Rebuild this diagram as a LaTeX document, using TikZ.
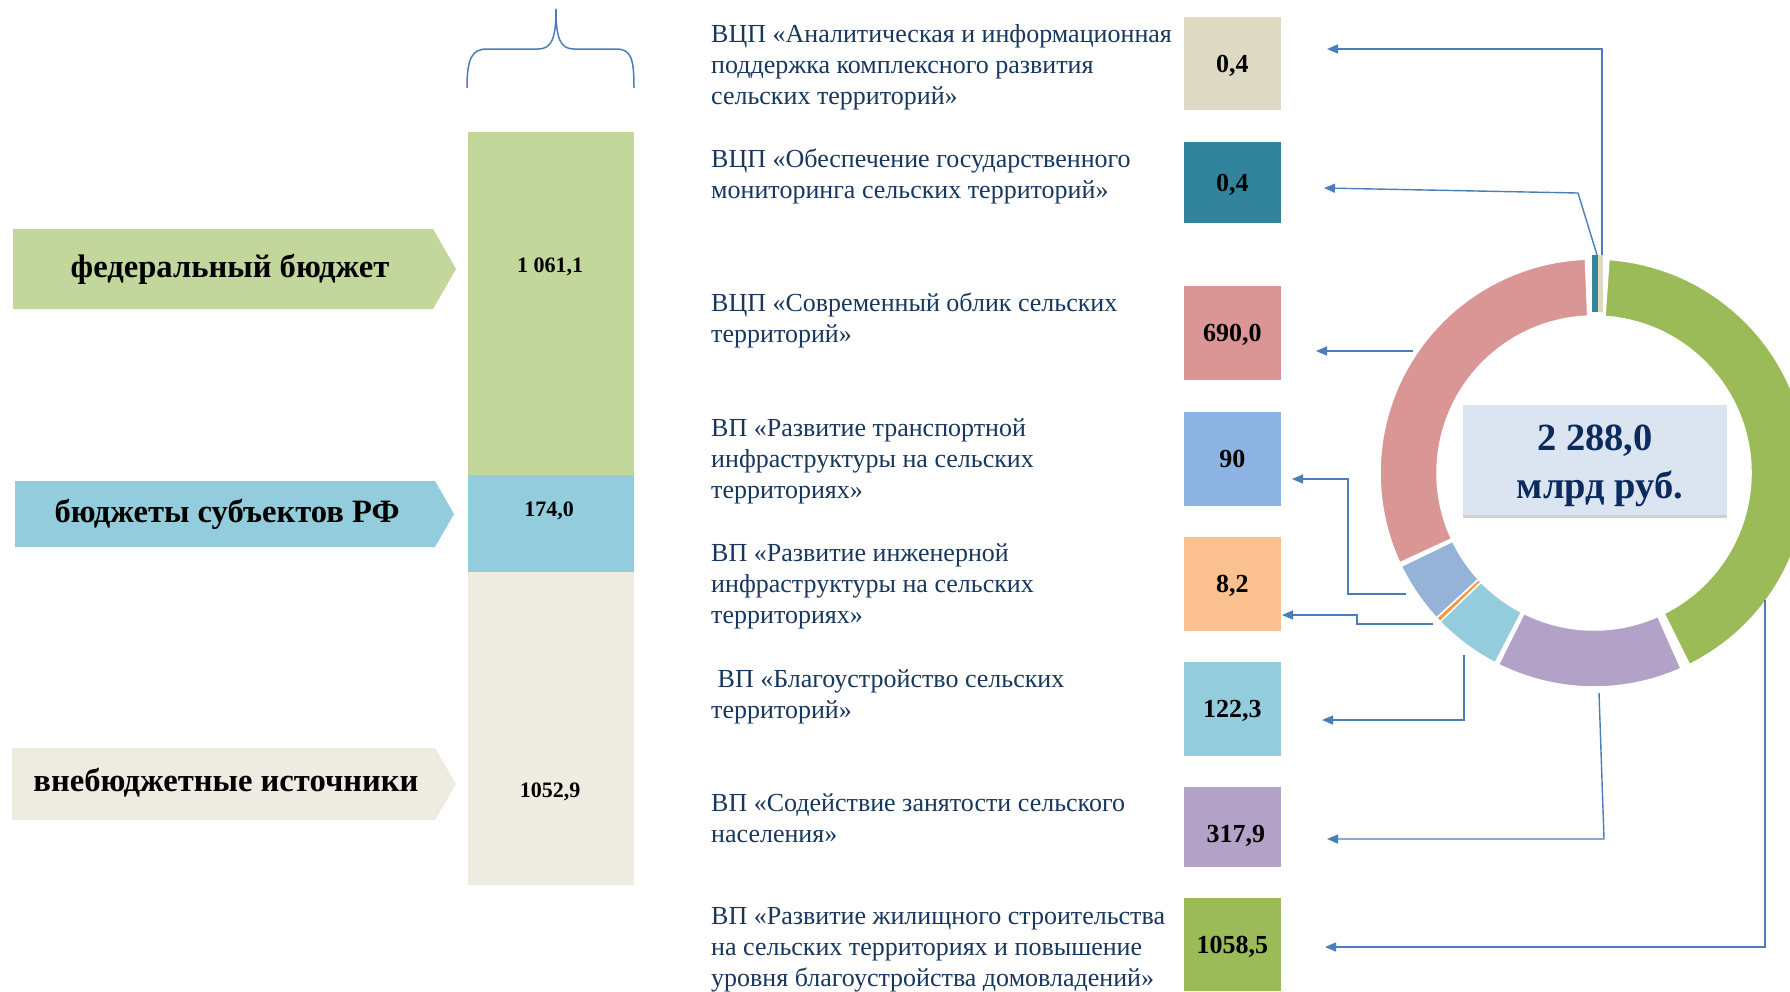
\documentclass[tikz,border=0pt]{standalone}
\usepackage{fontspec}
\setmainfont{Liberation Serif}
\usetikzlibrary{arrows.meta,shadows}
\definecolor{navy}{HTML}{17375E}
\definecolor{connc}{HTML}{4A7EBB}
\definecolor{cnavy}{HTML}{0B2A5E}
\definecolor{barg}{HTML}{C3D69B}
\definecolor{barb}{HTML}{93CDDD}
\definecolor{bare}{HTML}{EEECE1}
\definecolor{cbeige}{HTML}{DDD9C3}
\definecolor{cteal}{HTML}{31849B}
\definecolor{cpink}{HTML}{D99694}
\definecolor{cblue}{HTML}{8DB3E2}
\definecolor{rblue}{HTML}{95B3D7}
\definecolor{corange}{HTML}{FAC090}
\definecolor{rorange}{HTML}{F79646}
\definecolor{clblue}{HTML}{93CDDD}
\definecolor{cpurple}{HTML}{B2A2C7}
\definecolor{cgreen}{HTML}{9BBB59}
\definecolor{cboxf}{HTML}{DBE5F1}
\newcommand\ringseg[3]{\fill[#1,draw=white,line width=1.5pt] (-#2:214) arc[start angle=-#2, end angle=-#3, radius=214] -- (-#3:157) arc[start angle=-#3, end angle=-#2, radius=157] -- cycle;}
\begin{document}
\begin{tikzpicture}[x=1pt,y=-1pt,
  conn/.style={draw=connc, line width=1.4pt, -{Triangle[length=11pt,width=9pt]}},
  desc/.style={anchor=north west, inner sep=0pt, align=left, text=navy, font=\fontsize{26}{31}\selectfont},
  valbox/.style={minimum width=97.5pt, inner sep=0pt, text height=17.6pt, text depth=0pt, font=\bfseries\fontsize{26}{30}\selectfont},
  srclabel/.style={anchor=base, inner sep=0pt, font=\bfseries\fontsize{32.6}{38}\selectfont},
  barlabel/.style={anchor=base, inner sep=0pt, font=\bfseries\fontsize{22}{26}\selectfont},
  ctext/.style={anchor=base, inner sep=0pt, text=cnavy, font=\bfseries\fontsize{38.5}{46}\selectfont}
]
\useasboundingbox (0,0) rectangle (1790,991);
\fill[white] (0,0) rectangle (1790,991);

% brace
\draw[connc, line width=1.5pt] (467,88) .. controls (467,58) and (472,49) .. (487,49) -- (538,49)
  .. controls (552,49) and (556,38) .. (556,9) .. controls (556,38) and (560,49) .. (574,49)
  -- (616,49) .. controls (631,49) and (634,58) .. (634,88);

% stacked bar
\fill[barg] (468,132) rectangle (634,474.6);
\fill[barb] (468,474.6) rectangle (634,571.8);
\fill[bare] (468,571.8) rectangle (634,885);
\node[barlabel] (bl1) at (550,272) {1 061,1};
\node[barlabel] (bl2) at (549,516.7) {174,0};
\node[barlabel] (bl3) at (550,797) {1052,9};

% source arrows
\fill[barg] (13,229) -- (433,229) -- (456,269) -- (433,309) -- (13,309) -- cycle;
\fill[barb] (15,481) -- (435,481) -- (454,514) -- (435,547) -- (15,547) -- cycle;
\fill[bare] (12,748) -- (435,748) -- (456,784) -- (435,820) -- (12,820) -- cycle;
\node[srclabel] (s1) at (230,277) {федеральный бюджет};
\node[srclabel] (s2) at (227,522) {бюджеты субъектов РФ};
\node[srclabel] (s3) at (226,791) {внебюджетные источники};

% descriptions
\node[desc] (t1) at (711,20.3) {\strut ВЦП «Аналитическая и информационная\\поддержка комплексного развития\\сельских территорий»};
\node[desc] (t2) at (711,145.3) {\strut ВЦП «Обеспечение государственного\\мониторинга сельских территорий»};
\node[desc] (t3) at (711,289.3) {\strut ВЦП «Современный облик сельских\\территорий»};
\node[desc] (t4) at (711,414.3) {\strut ВП «Развитие транспортной\\инфраструктуры на сельских\\территориях»};
\node[desc] (t5) at (711,539.3) {\strut ВП «Развитие инженерной\\инфраструктуры на сельских\\территориях»};
\node[desc] (t6) at (711,665.3) {\strut\hspace{6.5pt}ВП «Благоустройство сельских\\территорий»};
\node[desc] (t7) at (711,789.3) {\strut ВП «Содействие занятости сельского\\населения»};
\node[desc] (t8) at (711,902.3) {\strut ВП «Развитие жилищного строительства\\на сельских территориях и повышение\\уровня благоустройства домовладений»};

% value boxes
\node[valbox, fill=cbeige, minimum height=93pt] (v1) at (1232.25,63.5) {0,4};
\node[valbox, fill=cteal, minimum height=81pt] (v2) at (1232.25,182.5) {0,4};
\node[valbox, fill=cpink, minimum height=94pt] (v3) at (1232.25,333) {690,0};
\node[valbox, fill=cblue, minimum height=94pt] (v4) at (1232.25,459) {90};
\node[valbox, fill=corange, minimum height=94pt] (v5) at (1232.25,584) {8,2};
\node[valbox, fill=clblue, minimum height=94pt] (v6) at (1232.25,709) {122,3};
\node[valbox, fill=cpurple, minimum height=80pt] (v7) at (1232.25,827) {\raisebox{-7pt}{\hspace{7pt}317,9}};
\node[valbox, fill=cgreen, minimum height=93pt] (v8) at (1232.25,944.5) {1058,5};

% donut
\begin{scope}[shift={(1594,473)}]
\ringseg{cgreen}{296.5}{446}
\ringseg{cpurple}{243.5}{294}
\ringseg{clblue}{224}{242.5}
\ringseg{rorange}{222.6}{224}
\ringseg{rblue}{205.8}{222.6}
\ringseg{cpink}{92.3}{204.8}
\end{scope}
\fill[cteal] (1592,255) rectangle (1598,312);
\fill[cbeige] (1598,255) rectangle (1603,312);

% center box
\node[fill=cboxf, minimum width=264pt, minimum height=110pt, inner sep=0pt,
  drop shadow={shadow xshift=0pt, shadow yshift=-3pt, fill=black!40, opacity=0.45}] (cbox) at (1595,460) {};
\node[ctext] (ctop) at (1595,450) {2 288,0};
\node[ctext] (cbot) at (1600,498) {млрд руб.};

% connector points
\coordinate (p1) at (1602,255);
\coordinate (p2) at (1597,255);
\coordinate (p3) at (1413,351);
\coordinate (p4) at (1406,594);
\coordinate (p5) at (1433,624);
\coordinate (p6) at (1464,655);
\coordinate (p7) at (1599,693);
\coordinate (p8) at (1765,600);
\coordinate (a1) at (1327,49);
\coordinate (a2) at (1324,188);
\coordinate (a3) at (1316,351);
\coordinate (a4) at (1292,479);
\coordinate (a5) at (1282,615);
\coordinate (a6) at (1322,720);
\coordinate (a7) at (1327,839);
\coordinate (a8) at (1325,947);

\draw[conn] (p1) |- (a1);
\draw[conn] (p2) -- (1578,193) -- (a2);
\draw[conn] (p3) -- (a3);
\draw[conn] (p4) -- (1348,594) -- (1348,479) -- (a4);
\draw[conn] (p5) -- (1357,624) -- (1357,615) -- (a5);
\draw[conn] (p6) |- (a6);
\draw[conn] (p7) -- (1604,839) -- (a7);
\draw[conn] (p8) |- (a8);
\end{tikzpicture}
\end{document}
